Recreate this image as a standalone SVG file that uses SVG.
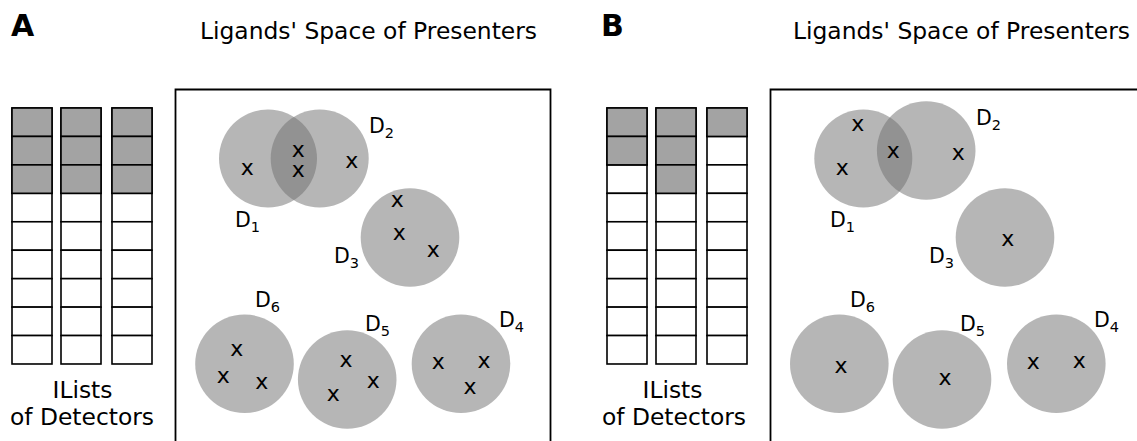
<svg xmlns="http://www.w3.org/2000/svg" width="1137" height="441" viewBox="0 0 1137 441">
  <style>
    text { font-family: "DejaVu Sans", "Liberation Sans", sans-serif; fill: #000; }
    .panel { font-size: 30px; font-weight: bold; }
    .title { font-size: 23.4px; text-anchor: middle; }
    .cap { font-size: 23.4px; text-anchor: middle; }
    .lbl { font-size: 20.5px; }
    .sub { font-size: 14.5px; }
    .mark { font-size: 22px; text-anchor: middle; }
    .cell { fill: #fff; stroke: #000; stroke-width: 1.6; }
    .on { fill: #a3a3a3; }
    .frame { fill: none; stroke: #000; stroke-width: 1.8; }
    .det { fill: #6e6e6e; fill-opacity: 0.5; }
  </style>
  <defs>
    <!-- one list column of nine cells -->
    <g id="column">
      <rect class="cell" x="0" y="0" width="40" height="28.44"/>
      <rect class="cell" x="0" y="28.44" width="40" height="28.44"/>
      <rect class="cell" x="0" y="56.88" width="40" height="28.44"/>
      <rect class="cell" x="0" y="85.33" width="40" height="28.44"/>
      <rect class="cell" x="0" y="113.77" width="40" height="28.44"/>
      <rect class="cell" x="0" y="142.22" width="40" height="28.44"/>
      <rect class="cell" x="0" y="170.66" width="40" height="28.44"/>
      <rect class="cell" x="0" y="199.11" width="40" height="28.44"/>
      <rect class="cell" x="0" y="227.55" width="40" height="28.44"/>
    </g>
  </defs>

  <!-- ===== Panel A ===== -->
  <g id="panelA">
    <text class="panel" x="11" y="35.7">A</text>
    <text class="title" x="368.5" y="39.3">Ligands' Space of Presenters</text>

    <g id="listsA">
      <use href="#column" x="12" y="108"/>
      <use href="#column" x="61" y="108"/>
      <use href="#column" x="112" y="108"/>
      <!-- filled cells -->
      <rect class="cell on" x="12" y="108" width="40" height="28.44"/>
      <rect class="cell on" x="12" y="136.44" width="40" height="28.44"/>
      <rect class="cell on" x="12" y="164.88" width="40" height="28.44"/>
      <rect class="cell on" x="61" y="108" width="40" height="28.44"/>
      <rect class="cell on" x="61" y="136.44" width="40" height="28.44"/>
      <rect class="cell on" x="61" y="164.88" width="40" height="28.44"/>
      <rect class="cell on" x="112" y="108" width="40" height="28.44"/>
      <rect class="cell on" x="112" y="136.44" width="40" height="28.44"/>
      <rect class="cell on" x="112" y="164.88" width="40" height="28.44"/>
      <text class="cap" x="82.5" y="398.3">ILists</text>
      <text class="cap" x="82" y="425">of Detectors</text>
    </g>

    <path class="frame" d="M175.5,445 V89.5 H550.5 V445"/>

    <g id="A-D1">
      <circle class="det" cx="268" cy="158.5" r="49"/>
      <text class="lbl" x="235" y="227.3">D<tspan class="sub" dy="4.8">1</tspan></text>
      <text class="mark" x="247.3" y="175.3">x</text>
    </g>
    <g id="A-D2">
      <circle class="det" cx="319.7" cy="158.5" r="49"/>
      <text class="lbl" x="369" y="132.7">D<tspan class="sub" dy="4.8">2</tspan></text>
      <text class="mark" x="351.7" y="167.7">x</text>
    </g>
    <g id="A-D1D2-shared">
      <text class="mark" x="298.3" y="156.7">x<tspan x="298.3" dy="20">x</tspan></text>
    </g>
    <g id="A-D3">
      <circle class="det" cx="410" cy="237.5" r="49.3"/>
      <text class="lbl" x="334" y="263.3">D<tspan class="sub" dy="4.8">3</tspan></text>
      <text class="mark" x="397.3" y="206.7">x</text>
      <text class="mark" x="399.3" y="240">x</text>
      <text class="mark" x="433.3" y="257">x</text>
    </g>
    <g id="A-D6">
      <circle class="det" cx="244.5" cy="363.8" r="49.3"/>
      <text class="lbl" x="255" y="306.7">D<tspan class="sub" dy="4.8">6</tspan></text>
      <text class="mark" x="236.7" y="356">x</text>
      <text class="mark" x="223.3" y="382.7">x</text>
      <text class="mark" x="261.7" y="389.3">x</text>
    </g>
    <g id="A-D5">
      <circle class="det" cx="347.2" cy="379.5" r="49.3"/>
      <text class="lbl" x="365" y="330.7">D<tspan class="sub" dy="4.8">5</tspan></text>
      <text class="mark" x="346" y="366.7">x</text>
      <text class="mark" x="373.3" y="387.7">x</text>
      <text class="mark" x="333.3" y="401">x</text>
    </g>
    <g id="A-D4">
      <circle class="det" cx="461" cy="363.8" r="49.3"/>
      <text class="lbl" x="499" y="326.7">D<tspan class="sub" dy="4.8">4</tspan></text>
      <text class="mark" x="438.3" y="369.3">x</text>
      <text class="mark" x="484" y="367.7">x</text>
      <text class="mark" x="470" y="393.7">x</text>
    </g>
  </g>

  <!-- ===== Panel B ===== -->
  <g id="panelB">
    <text class="panel" x="601" y="35.7">B</text>
    <text class="title" x="961.5" y="39.3">Ligands' Space of Presenters</text>

    <g id="listsB">
      <use href="#column" x="607" y="108"/>
      <use href="#column" x="656" y="108"/>
      <use href="#column" x="707" y="108"/>
      <rect class="cell on" x="607" y="108" width="40" height="28.44"/>
      <rect class="cell on" x="607" y="136.44" width="40" height="28.44"/>
      <rect class="cell on" x="656" y="108" width="40" height="28.44"/>
      <rect class="cell on" x="656" y="136.44" width="40" height="28.44"/>
      <rect class="cell on" x="656" y="164.88" width="40" height="28.44"/>
      <rect class="cell on" x="707" y="108" width="40" height="28.44"/>
      <text class="cap" x="672.5" y="398.3">ILists</text>
      <text class="cap" x="674" y="425">of Detectors</text>
    </g>

    <path class="frame" d="M770.5,445 V89.5 H1140"/>

    <g id="B-D1">
      <circle class="det" cx="863.3" cy="158.5" r="49"/>
      <text class="lbl" x="830" y="227.3">D<tspan class="sub" dy="4.8">1</tspan></text>
      <text class="mark" x="857.7" y="131">x</text>
      <text class="mark" x="842.3" y="175.3">x</text>
    </g>
    <g id="B-D2">
      <circle class="det" cx="926.2" cy="150.5" r="49.3"/>
      <text class="lbl" x="976" y="125">D<tspan class="sub" dy="4.8">2</tspan></text>
      <text class="mark" x="958.3" y="160">x</text>
    </g>
    <g id="B-D1D2-shared">
      <text class="mark" x="893.3" y="157.7">x</text>
    </g>
    <g id="B-D3">
      <circle class="det" cx="1005" cy="237.5" r="49.3"/>
      <text class="lbl" x="929" y="263.3">D<tspan class="sub" dy="4.8">3</tspan></text>
      <text class="mark" x="1007.7" y="246">x</text>
    </g>
    <g id="B-D6">
      <circle class="det" cx="839.3" cy="363.8" r="49.3"/>
      <text class="lbl" x="850" y="306.7">D<tspan class="sub" dy="4.8">6</tspan></text>
      <text class="mark" x="841" y="373.3">x</text>
    </g>
    <g id="B-D5">
      <circle class="det" cx="942" cy="379.5" r="49.3"/>
      <text class="lbl" x="960" y="330.7">D<tspan class="sub" dy="4.8">5</tspan></text>
      <text class="mark" x="945" y="385.3">x</text>
    </g>
    <g id="B-D4">
      <circle class="det" cx="1056.3" cy="363.8" r="49.3"/>
      <text class="lbl" x="1094" y="326.7">D<tspan class="sub" dy="4.8">4</tspan></text>
      <text class="mark" x="1033.3" y="369.3">x</text>
      <text class="mark" x="1079.3" y="367.7">x</text>
    </g>
  </g>

  <!-- no connectors in this figure -->
  <g id="connectors"/>
</svg>
